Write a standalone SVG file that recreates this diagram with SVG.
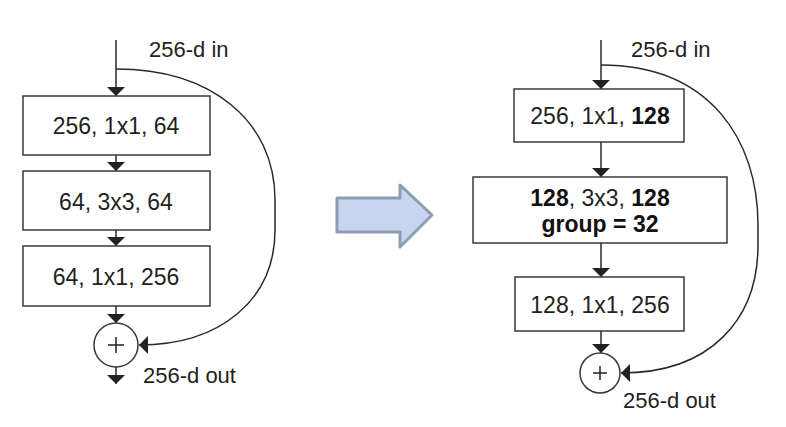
<svg xmlns="http://www.w3.org/2000/svg" width="786" height="427" viewBox="0 0 786 427">
<defs>
<style>
.box{fill:#fff;stroke:#3a3a3a;stroke-width:1.5}
.ln{fill:none;stroke:#2a2a2a;stroke-width:1.5}
.t{font-family:"Liberation Sans",Arial,sans-serif;font-size:23px;fill:#231f20;text-anchor:middle}
.lbl{font-family:"Liberation Sans",Arial,sans-serif;font-size:22px;fill:#231f20}
.b{font-weight:bold;fill:#111}
</style>
<marker id="ah" viewBox="0 0 9 18" refX="9" refY="9" markerWidth="9" markerHeight="18" markerUnits="userSpaceOnUse" orient="auto">
<path d="M0,0 L9,9 L0,18 Z" fill="#222"/>
</marker>
</defs>
<rect width="786" height="427" fill="#fff"/>

<g id="connectors">
<line class="ln" x1="116" y1="40" x2="116" y2="96" marker-end="url(#ah)"/>
<line class="ln" x1="116" y1="155" x2="116" y2="171" marker-end="url(#ah)"/>
<line class="ln" x1="116" y1="230" x2="116" y2="246" marker-end="url(#ah)"/>
<line class="ln" x1="116" y1="306" x2="116" y2="323" marker-end="url(#ah)"/>
<line class="ln" x1="116" y1="367" x2="116" y2="384" marker-end="url(#ah)"/>
<path class="ln" d="M116,69 C210,69 275,120 275,200 L275,230 C275,300 220,345 139,345" marker-end="url(#ah)"/>
<line class="ln" x1="601" y1="40" x2="601" y2="89" marker-end="url(#ah)"/>
<line class="ln" x1="601" y1="142" x2="601" y2="177" marker-end="url(#ah)"/>
<line class="ln" x1="601" y1="243" x2="601" y2="277" marker-end="url(#ah)"/>
<line class="ln" x1="601" y1="331" x2="601" y2="353" marker-end="url(#ah)"/>
<path class="ln" d="M601,65 C710,65 758,140 758,225 L758,245 C758,320 710,373 621,373" marker-end="url(#ah)"/>
</g>

<g id="left-in"><text class="lbl" x="149" y="57">256-d in</text></g>
<g id="left-b1"><rect class="box" x="23" y="96" width="187" height="59"/><text class="t" x="116" y="134">256, 1x1, 64</text></g>
<g id="left-b2"><rect class="box" x="23" y="171" width="187" height="59"/><text class="t" x="116" y="210">64, 3x3, 64</text></g>
<g id="left-b3"><rect class="box" x="23" y="246" width="187" height="60"/><text class="t" x="116" y="285">64, 1x1, 256</text></g>
<g id="left-sum"><circle cx="116" cy="345" r="22" fill="#fff" stroke="#3a3a3a" stroke-width="1.5"/><path d="M108,345 H124 M116,337 V353" stroke="#222" stroke-width="1.5"/></g>
<g id="left-out"><text class="lbl" x="143" y="383">256-d out</text></g>

<g id="big-arrow"><path d="M337,198 H400 V185 L432,215 L400,247 V232 H337 Z" fill="#c9d5ef" stroke="#8e9bb0" stroke-width="3" stroke-linejoin="round"/></g>

<g id="right-in"><text class="lbl" x="631" y="57">256-d in</text></g>
<g id="right-b1"><rect class="box" x="514" y="89" width="170" height="53"/><text class="t" x="600" y="124">256, 1x1, <tspan class="b">128</tspan></text></g>
<g id="right-b2"><rect class="box" x="473" y="177" width="254" height="66"/><text class="t" x="600" y="206"><tspan class="b">128</tspan>, 3x3, <tspan class="b">128</tspan></text><text class="t b" x="600" y="232">group = 32</text></g>
<g id="right-b3"><rect class="box" x="515" y="277" width="169" height="54"/><text class="t" x="600" y="313">128, 1x1, 256</text></g>
<g id="right-sum"><circle cx="600" cy="373" r="20" fill="#fff" stroke="#3a3a3a" stroke-width="1.5"/><path d="M593,373 H607 M600,366 V380" stroke="#222" stroke-width="1.5"/></g>
<g id="right-out"><text class="lbl" x="623" y="408">256-d out</text></g>
</svg>
